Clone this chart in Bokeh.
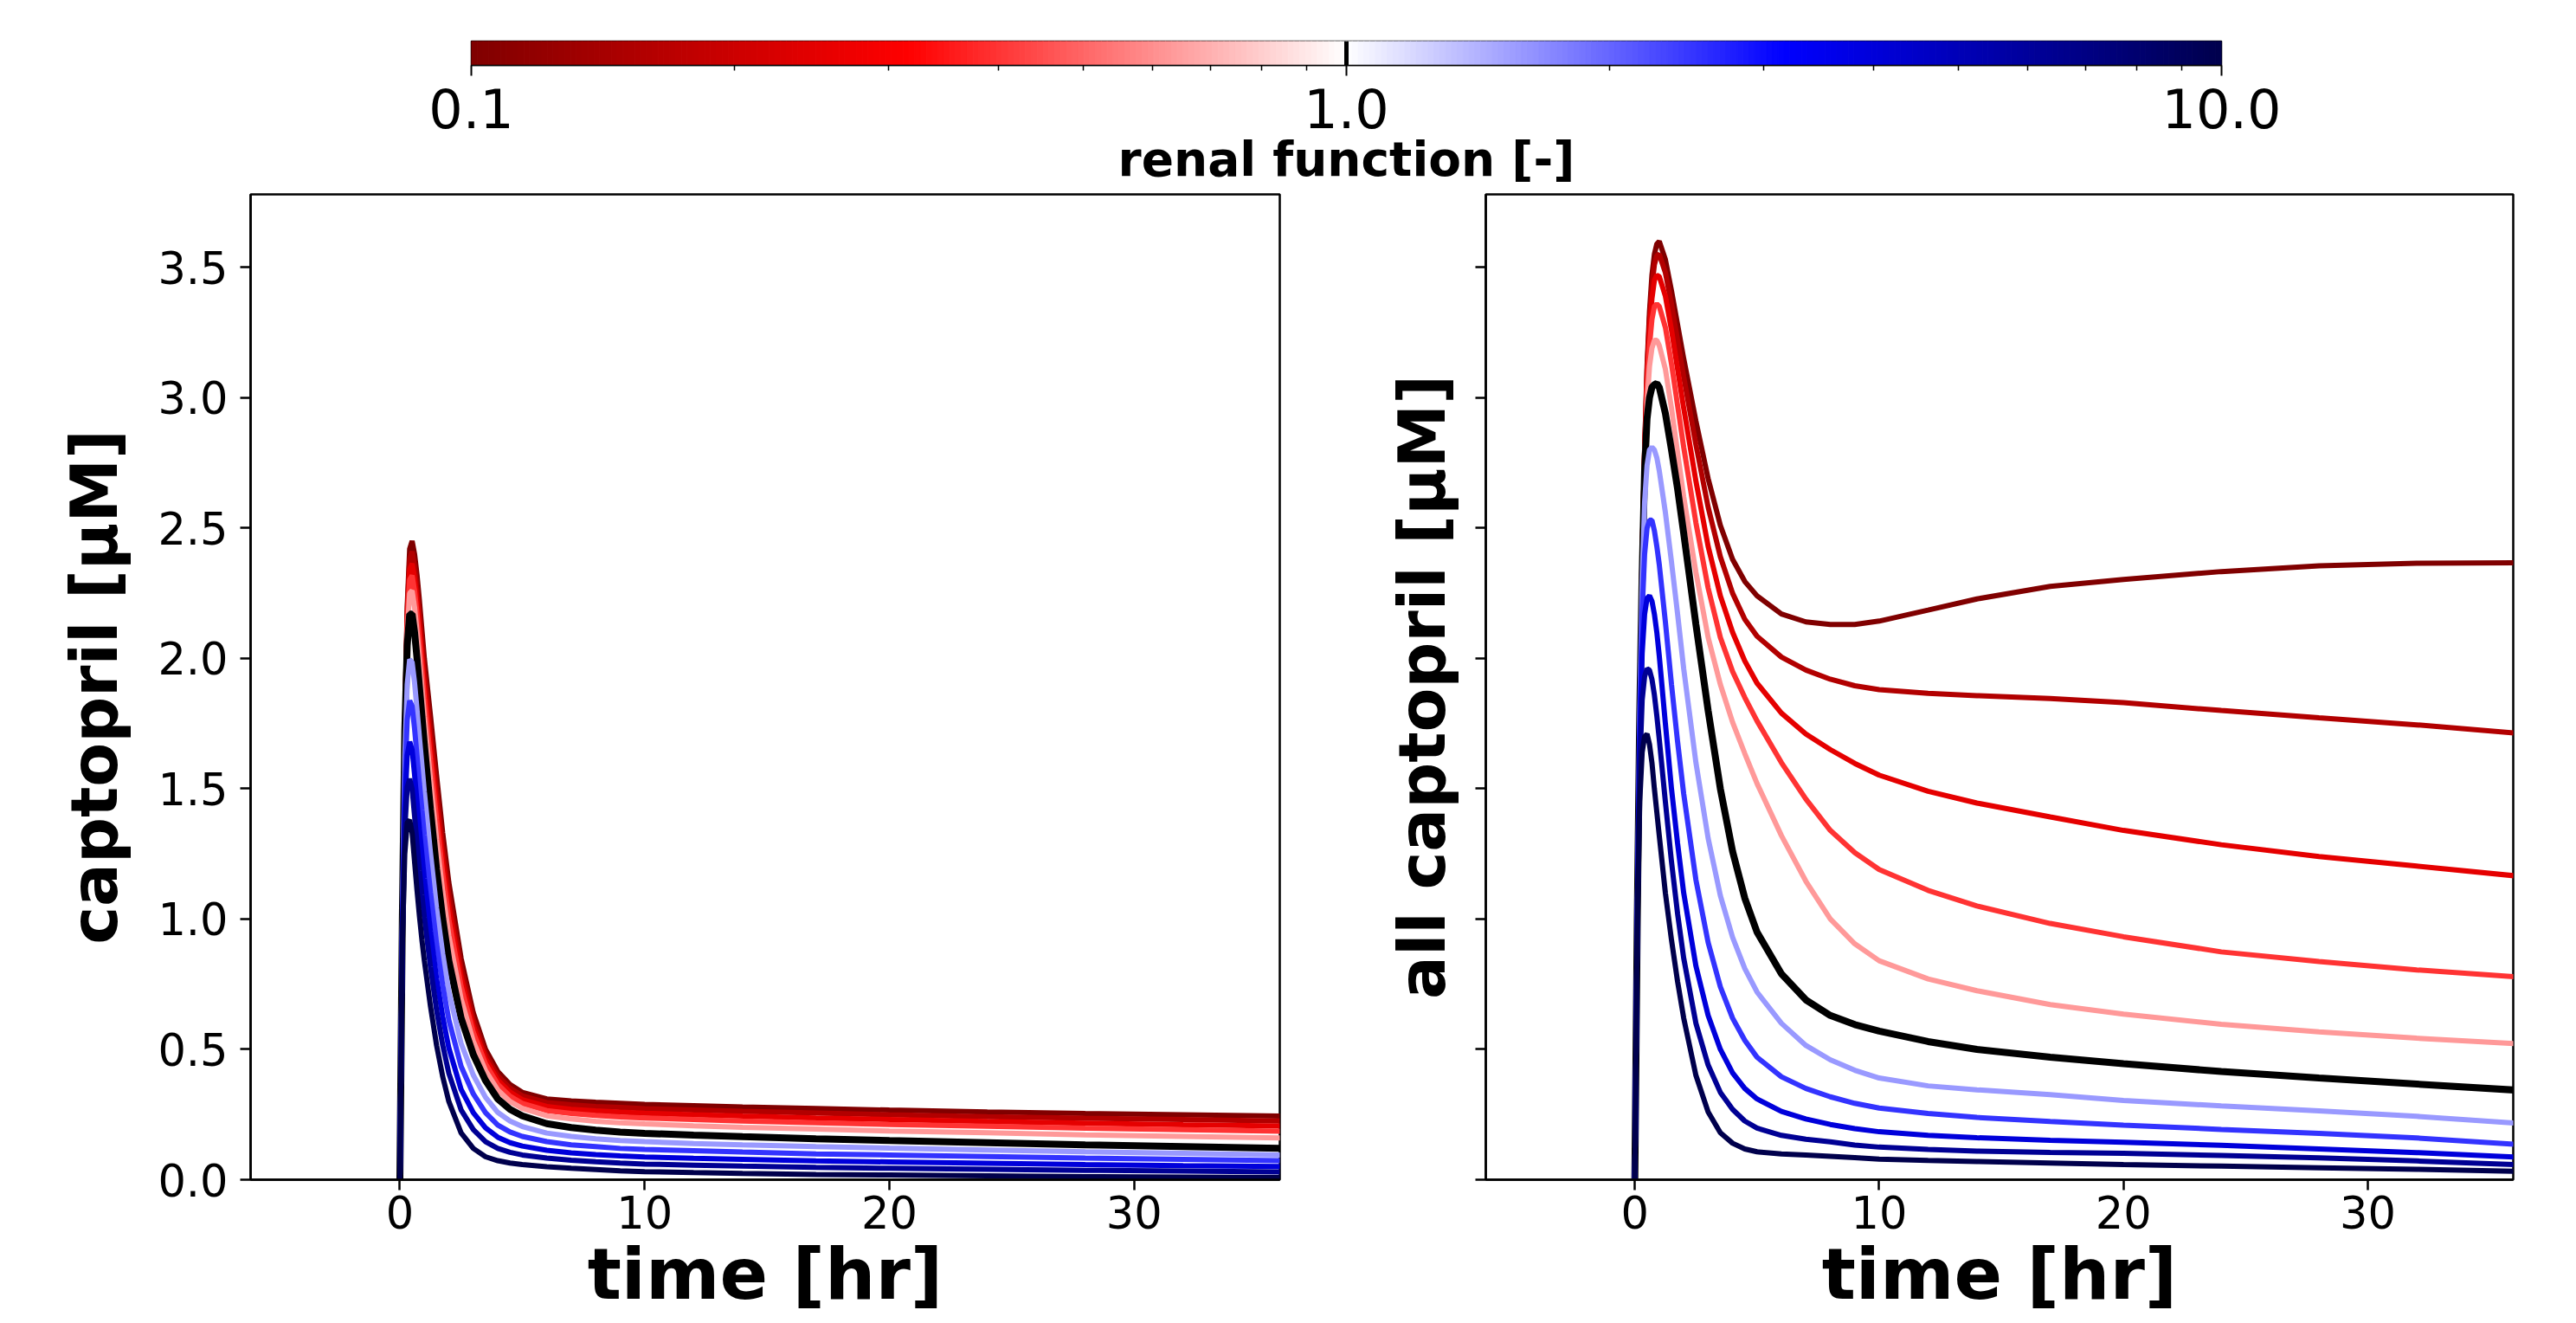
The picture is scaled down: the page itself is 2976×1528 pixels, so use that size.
import numpy as np
from bokeh.plotting import figure
from bokeh.layouts import column, row
from bokeh.models import FixedTicker, PrintfTickFormatter, Span
from bokeh.embed import file_html
from bokeh.resources import INLINE

# ---------------- data ----------------
renal_function = [0.1, 0.158, 0.251, 0.398, 0.631, 1.0, 1.585, 2.512, 3.981, 6.31, 10.0]
time_hr = [0, 0.1, 0.2, 0.3, 0.4, 0.5, 0.6, 0.7, 0.8, 0.9, 1.0, 1.25, 1.5, 1.75, 2.0,
           2.5, 3.0, 3.5, 4.0, 4.5, 5.0, 6.0, 7.0, 8.0, 9.0, 10, 12, 14, 17, 20, 24, 28, 32, 36]

# captopril [uM] (left panel), one list per renal function
cap_0100 = [0, 1.0, 1.75, 2.20, 2.42, 2.45, 2.40, 2.32, 2.22, 2.11, 2.00, 1.78, 1.55, 1.33, 1.14, 0.85, 0.64, 0.50, 0.415, 0.365, 0.335, 0.31, 0.302, 0.297, 0.293, 0.289, 0.284, 0.279, 0.273, 0.267, 0.26, 0.254, 0.249, 0.244]
cap_0158 = [0, 1.0, 1.745, 2.18, 2.38, 2.41, 2.355, 2.27, 2.17, 2.06, 1.95, 1.725, 1.495, 1.28, 1.095, 0.815, 0.616, 0.482, 0.399, 0.351, 0.322, 0.296, 0.287, 0.281, 0.277, 0.272, 0.267, 0.262, 0.256, 0.249, 0.242, 0.236, 0.231, 0.225]
cap_0251 = [0, 1.0, 1.741, 2.153, 2.342, 2.363, 2.307, 2.221, 2.118, 2.008, 1.898, 1.668, 1.438, 1.228, 1.047, 0.779, 0.59, 0.463, 0.382, 0.336, 0.307, 0.281, 0.27, 0.264, 0.259, 0.255, 0.249, 0.244, 0.237, 0.231, 0.223, 0.217, 0.211, 0.206]
cap_0398 = [0, 1.0, 1.736, 2.129, 2.302, 2.318, 2.259, 2.17, 2.065, 1.955, 1.845, 1.611, 1.381, 1.175, 0.999, 0.742, 0.565, 0.444, 0.366, 0.32, 0.293, 0.265, 0.254, 0.247, 0.241, 0.237, 0.231, 0.225, 0.218, 0.212, 0.205, 0.198, 0.192, 0.186]
cap_0631 = [0, 1.0, 1.73, 2.098, 2.25, 2.26, 2.196, 2.102, 1.996, 1.886, 1.776, 1.535, 1.305, 1.106, 0.936, 0.694, 0.531, 0.418, 0.344, 0.3, 0.274, 0.245, 0.233, 0.224, 0.218, 0.214, 0.207, 0.201, 0.194, 0.187, 0.18, 0.172, 0.166, 0.16]
cap_1000 = [0, 1.0, 1.72, 2.05, 2.17, 2.17, 2.10, 2.00, 1.89, 1.78, 1.67, 1.42, 1.19, 1.00, 0.84, 0.62, 0.48, 0.38, 0.31, 0.27, 0.245, 0.215, 0.20, 0.19, 0.183, 0.178, 0.171, 0.165, 0.157, 0.15, 0.142, 0.134, 0.127, 0.12]
cap_1585 = [0, 0.978, 1.617, 1.90, 1.996, 1.985, 1.906, 1.804, 1.696, 1.591, 1.487, 1.254, 1.041, 0.867, 0.721, 0.523, 0.401, 0.316, 0.258, 0.225, 0.204, 0.179, 0.166, 0.157, 0.15, 0.146, 0.139, 0.134, 0.127, 0.121, 0.114, 0.107, 0.101, 0.095]
cap_2512 = [0, 0.958, 1.523, 1.764, 1.838, 1.817, 1.73, 1.626, 1.52, 1.419, 1.321, 1.103, 0.906, 0.746, 0.613, 0.435, 0.329, 0.257, 0.21, 0.183, 0.166, 0.146, 0.134, 0.127, 0.12, 0.116, 0.111, 0.106, 0.099, 0.095, 0.089, 0.083, 0.078, 0.073]
cap_3981 = [0, 0.938, 1.429, 1.628, 1.68, 1.649, 1.554, 1.448, 1.344, 1.247, 1.155, 0.952, 0.771, 0.625, 0.505, 0.347, 0.257, 0.199, 0.163, 0.142, 0.129, 0.113, 0.103, 0.096, 0.091, 0.087, 0.082, 0.078, 0.072, 0.068, 0.063, 0.058, 0.054, 0.051]
cap_6310 = [0, 0.92, 1.344, 1.506, 1.538, 1.498, 1.396, 1.288, 1.186, 1.092, 1.006, 0.816, 0.65, 0.516, 0.408, 0.268, 0.192, 0.146, 0.12, 0.105, 0.095, 0.083, 0.075, 0.069, 0.064, 0.06, 0.056, 0.052, 0.047, 0.044, 0.04, 0.036, 0.033, 0.03]
cap_10000 = [0, 0.9, 1.25, 1.37, 1.38, 1.33, 1.22, 1.11, 1.01, 0.92, 0.84, 0.665, 0.515, 0.395, 0.30, 0.18, 0.12, 0.088, 0.073, 0.064, 0.058, 0.05, 0.044, 0.039, 0.034, 0.031, 0.027, 0.024, 0.02, 0.018, 0.015, 0.012, 0.01, 0.008]

# all captopril [uM] (right panel)
all_0100 = [0, 1.0, 1.80, 2.38, 2.80, 3.12, 3.33, 3.47, 3.55, 3.59, 3.60, 3.53, 3.41, 3.28, 3.15, 2.91, 2.69, 2.51, 2.38, 2.295, 2.24, 2.17, 2.14, 2.13, 2.13, 2.143, 2.185, 2.228, 2.276, 2.303, 2.333, 2.355, 2.365, 2.367]
all_0158 = [0, 1.0, 1.80, 2.38, 2.80, 3.10, 3.30, 3.43, 3.51, 3.545, 3.55, 3.48, 3.36, 3.22, 3.08, 2.82, 2.58, 2.39, 2.25, 2.15, 2.085, 2.005, 1.955, 1.92, 1.895, 1.88, 1.866, 1.857, 1.846, 1.83, 1.80, 1.772, 1.745, 1.714]
all_0251 = [0, 1.0, 1.80, 2.38, 2.79, 3.07, 3.26, 3.38, 3.45, 3.47, 3.465, 3.39, 3.26, 3.11, 2.96, 2.68, 2.43, 2.24, 2.10, 1.99, 1.905, 1.79, 1.71, 1.65, 1.597, 1.552, 1.49, 1.445, 1.392, 1.34, 1.285, 1.24, 1.203, 1.166]
all_0398 = [0, 1.0, 1.80, 2.37, 2.77, 3.04, 3.20, 3.30, 3.35, 3.36, 3.35, 3.27, 3.13, 2.97, 2.81, 2.52, 2.27, 2.08, 1.95, 1.85, 1.76, 1.60, 1.46, 1.34, 1.255, 1.19, 1.11, 1.05, 0.983, 0.932, 0.874, 0.837, 0.805, 0.779]
all_0631 = [0, 1.0, 1.80, 2.36, 2.74, 2.98, 3.12, 3.19, 3.22, 3.22, 3.20, 3.11, 2.96, 2.79, 2.62, 2.33, 2.08, 1.90, 1.755, 1.635, 1.52, 1.32, 1.145, 1.0, 0.905, 0.84, 0.77, 0.725, 0.672, 0.635, 0.596, 0.567, 0.543, 0.522]
all_1000 = [0, 1.0, 1.78, 2.32, 2.72, 2.92, 3.00, 3.04, 3.05, 3.055, 3.04, 2.94, 2.80, 2.65, 2.48, 2.13, 1.80, 1.50, 1.26, 1.08, 0.95, 0.79, 0.69, 0.63, 0.595, 0.57, 0.53, 0.50, 0.47, 0.445, 0.415, 0.39, 0.367, 0.344]
all_1585 = [0, 1.0, 1.78, 2.30, 2.60, 2.74, 2.80, 2.81, 2.80, 2.77, 2.72, 2.56, 2.37, 2.17, 1.96, 1.60, 1.31, 1.09, 0.93, 0.81, 0.72, 0.60, 0.515, 0.46, 0.42, 0.39, 0.36, 0.345, 0.326, 0.304, 0.283, 0.264, 0.243, 0.217]
all_2512 = [0, 1.0, 1.74, 2.18, 2.40, 2.50, 2.53, 2.53, 2.49, 2.43, 2.36, 2.14, 1.90, 1.68, 1.48, 1.15, 0.91, 0.74, 0.62, 0.535, 0.47, 0.395, 0.35, 0.318, 0.293, 0.275, 0.254, 0.239, 0.223, 0.209, 0.193, 0.178, 0.16, 0.136]
all_3981 = [0, 1.0, 1.68, 2.02, 2.17, 2.23, 2.24, 2.22, 2.17, 2.10, 2.01, 1.75, 1.50, 1.29, 1.10, 0.82, 0.63, 0.50, 0.41, 0.35, 0.31, 0.262, 0.233, 0.212, 0.196, 0.184, 0.17, 0.161, 0.151, 0.144, 0.132, 0.118, 0.104, 0.087]
all_6310 = [0, 0.98, 1.58, 1.84, 1.93, 1.96, 1.955, 1.92, 1.86, 1.78, 1.69, 1.45, 1.22, 1.02, 0.85, 0.60, 0.44, 0.335, 0.27, 0.225, 0.198, 0.17, 0.155, 0.145, 0.133, 0.125, 0.116, 0.11, 0.105, 0.101, 0.093, 0.084, 0.072, 0.058]
all_10000 = [0, 0.95, 1.45, 1.64, 1.70, 1.71, 1.67, 1.60, 1.50, 1.41, 1.32, 1.10, 0.92, 0.76, 0.62, 0.40, 0.26, 0.18, 0.14, 0.118, 0.107, 0.099, 0.095, 0.09, 0.085, 0.079, 0.074, 0.07, 0.064, 0.058, 0.052, 0.046, 0.04, 0.032]

captopril_series = [cap_0100, cap_0158, cap_0251, cap_0398, cap_0631, cap_1000,
                    cap_1585, cap_2512, cap_3981, cap_6310, cap_10000]
all_captopril_series = [all_0100, all_0158, all_0251, all_0398, all_0631, all_1000,
                        all_1585, all_2512, all_3981, all_6310, all_10000]

y_ticks = [0.0, 0.5, 1.0, 1.5, 2.0, 2.5, 3.0, 3.5]
x_ticks = [0, 10, 20, 30]
cbar_ticks = [0.1, 1.0, 10.0]
cbar_minor = [0.2, 0.3, 0.4, 0.5, 0.6, 0.7, 0.8, 0.9, 2, 3, 4, 5, 6, 7, 8, 9]

for s in captopril_series + all_captopril_series:
    assert len(s) == len(time_hr)

# ---------------- styling helpers ----------------
def seismic_r(v):
    x = 1.0 - min(max(v, 0.0), 1.0)
    stops = [0.0, 0.25, 0.5, 0.75, 1.0]
    cols = [(0, 0, 0.3), (0, 0, 1), (1, 1, 1), (1, 0, 0), (0.5, 0, 0)]
    c = cols[-1]
    for i in range(4):
        if x <= stops[i + 1]:
            fr = (x - stops[i]) / 0.25
            c = [cols[i][k] + fr * (cols[i + 1][k] - cols[i][k]) for k in range(3)]
            break
    return "#%02x%02x%02x" % tuple(int(round(255 * ch)) for ch in c)

def norm(f):
    return (np.log10(f) + 1.0) / 2.0

FONT = "DejaVu Sans"
TICK_SIZE = "51px"
LINE_W = 6
BLACK_W = 8

# ---------------- colorbar ----------------
cb = figure(frame_width=2022, frame_height=28, x_axis_type="log",
            x_range=(0.1, 10), y_range=(0, 1),
            min_border_left=544, min_border_right=394, min_border_top=47, min_border_bottom=145,
            output_backend="svg", toolbar_location=None)
edges = np.logspace(-1, 1, 301)
mids = np.sqrt(edges[:-1] * edges[1:])
grad_cols = [seismic_r(norm(m)) for m in mids]
cb.quad(left=edges[:-1], right=edges[1:], bottom=0, top=1,
        fill_color=grad_cols, line_color=grad_cols, line_width=1)
cb.add_layout(Span(location=1.0, dimension="height", line_color="black", line_width=5))
cb.yaxis.visible = False
cb.grid.visible = False
cb.outline_line_color = "black"
cb.outline_line_width = 1.5
ax = cb.xaxis[0]
ax.ticker = FixedTicker(ticks=cbar_ticks, minor_ticks=cbar_minor)
ax.formatter = PrintfTickFormatter(format="%.1f")
ax.major_label_text_font = FONT
ax.major_label_text_font_size = "62px"
ax.major_label_text_color = "black"
ax.major_tick_out = 12
ax.major_tick_in = 0
ax.minor_tick_out = 6
ax.minor_tick_in = 0
ax.major_tick_line_width = 2
ax.minor_tick_line_width = 1.5
ax.major_tick_line_color = "black"
ax.minor_tick_line_color = "black"
ax.axis_line_color = "black"
ax.axis_line_width = 1.5
ax.major_label_standoff = 14
ax.axis_label = "renal function [-]"
ax.axis_label_text_font = FONT
ax.axis_label_text_font_style = "bold"
ax.axis_label_text_font_size = "55px"
ax.axis_label_text_color = "black"
ax.axis_label_standoff = 1

# ---------------- main panels ----------------
def make_panel(series, ylabel, show_ylabels, left_border, right_border, fw):
    p = figure(frame_width=fw, frame_height=1138,
               x_range=(-6.1, 35.95), y_range=(0, 3.78),
               min_border_left=left_border, min_border_right=right_border,
               min_border_top=4, min_border_bottom=150,
               output_backend="svg", toolbar_location=None)
    p.grid.visible = False
    p.outline_line_color = "black"
    p.outline_line_width = 2.5
    for f, vals in zip(renal_function, series):
        if abs(f - 1.0) < 1e-9:
            p.line(time_hr, vals, line_color="black", line_width=BLACK_W)
        else:
            p.line(time_hr, vals, line_color=seismic_r(norm(f)), line_width=LINE_W)
    for a in (p.xaxis[0], p.yaxis[0]):
        a.major_tick_out = 12
        a.major_tick_in = 0
        a.major_tick_line_width = 2.5
        a.major_tick_line_color = "black"
        a.minor_tick_line_color = None
        a.axis_line_color = "black"
        a.axis_line_width = 2.5
        a.major_label_text_font = FONT
        a.major_label_text_font_size = TICK_SIZE
        a.major_label_text_color = "black"
        a.axis_label_text_font = FONT
        a.axis_label_text_font_style = "bold"
        a.axis_label_text_color = "black"
    xa = p.xaxis[0]
    xa.ticker = FixedTicker(ticks=x_ticks)
    xa.major_label_standoff = 6
    xa.axis_label = "time [hr]"
    xa.axis_label_text_font_size = "82px"
    xa.axis_label_standoff = 2
    ya = p.yaxis[0]
    ya.axis_label = ylabel
    ya.axis_label_text_font_size = "74px"
    if show_ylabels:
        ya.ticker = FixedTicker(ticks=y_ticks)
        ya.formatter = PrintfTickFormatter(format="%.1f")
        ya.major_label_standoff = 14
        ya.axis_label_standoff = 27
    else:
        # shared y: ticks without labels (drawn as minor ticks)
        ya.ticker = FixedTicker(ticks=[], minor_ticks=y_ticks)
        ya.minor_tick_line_color = "black"
        ya.minor_tick_line_width = 2.5
        ya.minor_tick_out = 12
        ya.minor_tick_in = 0
        ya.major_label_standoff = 0
        ya.axis_label_standoff = 19
    return p

p1 = make_panel(captopril_series, "captopril [µM]", True, 289, 20, 1189)
p2 = make_panel(all_captopril_series, "all captopril [µM]", False, 218, 57, 1187)

layout = column(cb, row(p1, p2))
open("out.html", "w").write(file_html(layout, INLINE))
